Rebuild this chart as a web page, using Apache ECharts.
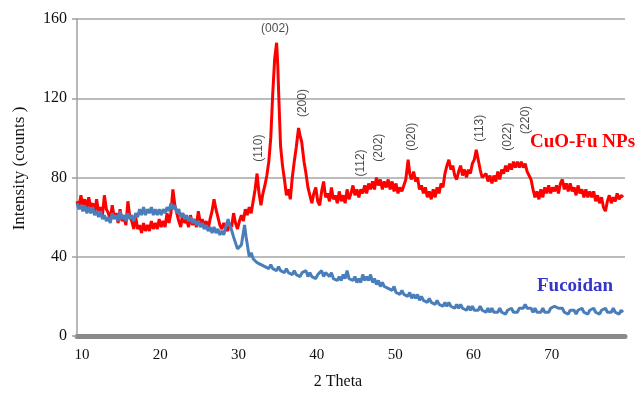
<!DOCTYPE html>
<html>
<head>
<meta charset="utf-8">
<script src="https://cdn.jsdelivr.net/npm/echarts@6/dist/echarts.min.js"></script>
<style>
  html, body { margin: 0; padding: 0; background: #fff; }
  #chart { width: 641px; height: 395px; }
</style>
</head>
<body>
<div id="chart"></div>
<script>
// CuO-Fu NPs pattern, [2theta, counts]
const cuoFu = [
  [10, 68], [10.25, 65], [10.5, 71], [10.75, 66], [11, 69], [11.25, 64], [11.5, 70], [11.75, 65],
  [12, 67], [12.25, 62], [12.5, 69], [12.75, 63], [13, 65], [13.25, 61], [13.5, 71], [13.75, 64],
  [14, 62], [14.25, 59], [14.5, 66], [14.75, 60], [15, 62], [15.25, 57], [15.5, 64], [15.75, 58],
  [16, 60], [16.25, 56], [16.5, 68], [16.75, 60], [17, 58], [17.25, 54], [17.5, 60], [17.75, 54],
  [18, 56], [18.25, 52], [18.5, 57], [18.75, 53], [19, 56], [19.25, 53], [19.5, 58], [19.75, 54],
  [20, 57], [20.25, 54], [20.5, 59], [20.75, 55], [21, 58], [21.25, 55], [21.5, 62], [21.75, 57],
  [22, 62], [22.25, 74], [22.5, 66], [22.75, 62], [23, 58], [23.25, 55], [23.5, 62], [23.75, 57],
  [24, 59], [24.25, 55], [24.5, 61], [24.75, 56], [25, 59], [25.25, 55], [25.5, 63], [25.75, 57],
  [26, 59], [26.25, 55], [26.5, 58], [26.75, 54], [27, 59], [27.25, 63], [27.5, 69], [27.75, 64],
  [28, 60], [28.25, 56], [28.5, 54], [28.75, 57], [29, 58], [29.25, 53], [29.5, 57], [29.75, 55],
  [30, 62], [30.25, 57], [30.5, 54], [30.75, 58], [31, 61], [31.25, 58], [31.5, 64], [31.75, 61],
  [32, 65], [32.25, 62], [32.5, 68], [32.75, 74], [33, 82], [33.25, 72], [33.5, 66], [33.75, 72],
  [34, 76], [34.25, 81], [34.5, 88], [34.75, 100], [35, 122], [35.25, 140], [35.5, 148], [35.65, 136],
  [35.8, 118], [36, 96], [36.25, 86], [36.5, 79], [36.75, 71], [37, 74], [37.25, 69], [37.5, 80],
  [37.75, 88], [38, 95], [38.3, 105], [38.5, 101], [38.7, 98], [39, 88], [39.25, 82], [39.5, 75],
  [39.75, 71], [40, 67], [40.25, 72], [40.5, 75], [40.75, 68], [41, 66], [41.25, 73], [41.5, 78],
  [41.75, 70], [42, 72], [42.25, 68], [42.5, 75], [42.75, 69], [43, 71], [43.25, 67], [43.5, 73],
  [43.75, 68], [44, 71], [44.25, 67], [44.5, 74], [44.75, 69], [45, 72], [45.25, 76], [45.5, 71],
  [45.75, 74], [46, 70], [46.25, 74], [46.5, 72], [46.75, 76], [47, 72], [47.25, 77], [47.5, 74],
  [47.75, 78], [48, 74], [48.25, 80], [48.5, 76], [48.75, 79], [49, 74], [49.25, 78], [49.5, 75],
  [49.75, 79], [50, 74], [50.25, 78], [50.5, 73], [50.75, 77], [51, 72], [51.25, 75], [51.5, 73],
  [51.75, 76], [52, 79], [52.3, 89], [52.5, 82], [52.7, 79], [53, 83], [53.25, 78], [53.5, 80],
  [53.75, 74], [54, 76], [54.25, 72], [54.5, 75], [54.75, 70], [55, 73], [55.25, 69], [55.5, 74],
  [55.75, 70], [56, 75], [56.25, 72], [56.5, 77], [56.75, 75], [57, 82], [57.25, 86], [57.5, 89],
  [57.75, 84], [58, 86], [58.25, 81], [58.5, 79], [58.75, 83], [59, 86], [59.25, 81], [59.5, 84],
  [59.75, 80], [60, 84], [60.25, 82], [60.5, 87], [60.75, 89], [61, 94], [61.25, 89], [61.5, 84],
  [61.75, 80], [62, 79], [62.25, 82], [62.5, 78], [62.75, 81], [63, 77], [63.25, 81], [63.5, 78],
  [63.75, 83], [64, 79], [64.25, 84], [64.5, 82], [64.75, 86], [65, 83], [65.25, 87], [65.5, 84],
  [65.75, 88], [66, 85], [66.25, 88], [66.5, 85], [66.75, 88], [67, 85], [67.25, 87], [67.5, 83],
  [67.75, 84], [68, 79], [68.25, 74], [68.5, 70], [68.75, 73], [69, 69], [69.25, 74], [69.5, 70],
  [69.75, 75], [70, 72], [70.25, 76], [70.5, 72], [70.75, 75], [71, 73], [71.25, 76], [71.5, 72],
  [71.75, 77], [72, 79], [72.25, 74], [72.5, 77], [72.75, 73], [73, 77], [73.25, 73], [73.5, 75],
  [73.75, 71], [74, 76], [74.25, 72], [74.5, 74], [74.75, 70], [75, 74], [75.25, 70], [75.5, 73],
  [75.75, 70], [76, 73], [76.25, 68], [76.5, 71], [76.75, 67], [77, 70], [77.25, 65], [77.5, 63],
  [77.75, 68], [78, 71], [78.25, 67], [78.5, 70], [78.75, 68], [79, 72], [79.25, 69], [79.5, 71],
  [79.75, 70]
];

// Fucoidan pattern, [2theta, counts]
const fucoidan = [
  [10, 67], [10.25, 64], [10.5, 66], [10.75, 63], [11, 66], [11.25, 62], [11.5, 65], [11.75, 62],
  [12, 65], [12.25, 61], [12.5, 63], [12.75, 60], [13, 63], [13.25, 59], [13.5, 61], [13.75, 58],
  [14, 60], [14.25, 57], [14.5, 62], [14.75, 59], [15, 61], [15.25, 58], [15.5, 63], [15.75, 59],
  [16, 61], [16.25, 58], [16.5, 62], [16.75, 59], [17, 61], [17.25, 58], [17.5, 62], [17.75, 60],
  [18, 64], [18.25, 61], [18.5, 65], [18.75, 61], [19, 64], [19.25, 62], [19.5, 65], [19.75, 61],
  [20, 64], [20.25, 61], [20.5, 64], [20.75, 61], [21, 64], [21.25, 62], [21.5, 65], [21.75, 63],
  [22, 67], [22.25, 64], [22.5, 66], [22.75, 62], [23, 64], [23.25, 60], [23.5, 62], [23.75, 59],
  [24, 61], [24.25, 58], [24.5, 60], [24.75, 57], [25, 59], [25.25, 56], [25.5, 58], [25.75, 55],
  [26, 57], [26.25, 54], [26.5, 56], [26.75, 53], [27, 55], [27.25, 52], [27.5, 55], [27.75, 52],
  [28, 54], [28.25, 51], [28.5, 53], [28.75, 51], [29, 55], [29.3, 59], [29.5, 56], [29.7, 54],
  [30, 50], [30.25, 47], [30.5, 44], [30.75, 43], [31, 46], [31.2, 51], [31.4, 56], [31.6, 50],
  [31.8, 45], [32, 40], [32.25, 42], [32.5, 39], [32.75, 40], [33, 37], [33.25, 38], [33.5, 36],
  [33.75, 37], [34, 35], [34.25, 36], [34.5, 34], [34.75, 36], [35, 34], [35.25, 35], [35.5, 33],
  [35.75, 35], [36, 33], [36.25, 34], [36.5, 32], [36.75, 34], [37, 32], [37.25, 33], [37.5, 31],
  [37.75, 33], [38, 31], [38.25, 32], [38.5, 30], [38.75, 32], [39, 31], [39.25, 33], [39.5, 30],
  [39.75, 32], [40, 30], [40.25, 31], [40.5, 29], [40.75, 31], [41, 30], [41.25, 33], [41.5, 30],
  [41.75, 32], [42, 31], [42.25, 30], [42.5, 32], [42.75, 29], [43, 30], [43.25, 28], [43.5, 30],
  [43.75, 28], [44, 31], [44.25, 29], [44.5, 33], [44.75, 29], [45, 30], [45.25, 28], [45.5, 30],
  [45.75, 27], [46, 29], [46.25, 27], [46.5, 31], [46.75, 28], [47, 30], [47.25, 28], [47.5, 31],
  [47.75, 27], [48, 29], [48.25, 26], [48.5, 28], [48.75, 25], [49, 27], [49.25, 25], [49.5, 26],
  [49.75, 24], [50, 25], [50.25, 23], [50.5, 25], [50.75, 22], [51, 23], [51.25, 21], [51.5, 23],
  [51.75, 21], [52, 22], [52.25, 20], [52.5, 22], [52.75, 19], [53, 21], [53.25, 19], [53.5, 21],
  [53.75, 18], [54, 20], [54.25, 18], [54.5, 19], [54.75, 17], [55, 19], [55.25, 17], [55.5, 18],
  [55.75, 16], [56, 18], [56.25, 16], [56.5, 17], [56.75, 15], [57, 17], [57.25, 15], [57.5, 17],
  [57.75, 15], [58, 16], [58.25, 14], [58.5, 16], [58.75, 14], [59, 16], [59.25, 14], [59.5, 15],
  [59.75, 13], [60, 15], [60.25, 13], [60.5, 15], [60.75, 13], [61, 14], [61.25, 13], [61.5, 15],
  [61.75, 13], [62, 14], [62.25, 12], [62.5, 14], [62.75, 12], [63, 14], [63.25, 12], [63.5, 13],
  [63.75, 12], [64, 14], [64.25, 12], [64.5, 13], [64.75, 11], [65, 13], [65.25, 12], [65.5, 14],
  [65.75, 12], [66, 13], [66.25, 12], [66.5, 14], [66.75, 13], [67, 14], [67.25, 16], [67.5, 14],
  [67.75, 13], [68, 14], [68.25, 12], [68.5, 14], [68.75, 12], [69, 13], [69.25, 12], [69.5, 14],
  [69.75, 12], [70, 13], [70.25, 12], [70.5, 14], [70.75, 13], [71, 15], [71.25, 16], [71.5, 14],
  [71.75, 13], [72, 14], [72.25, 12], [72.5, 13], [72.75, 11], [73, 13], [73.25, 12], [73.5, 13],
  [73.75, 11], [74, 13], [74.25, 12], [74.5, 14], [74.75, 12], [75, 13], [75.25, 11], [75.5, 13],
  [75.75, 12], [76, 14], [76.25, 12], [76.5, 13], [76.75, 11], [77, 13], [77.25, 12], [77.5, 14],
  [77.75, 12], [78, 13], [78.25, 12], [78.5, 14], [78.75, 12], [79, 13], [79.25, 11], [79.5, 13],
  [79.75, 12]
];

// Miller index labels: text, 2theta, counts at text base
const peakNames = ["(110)", "(200)", "(112)", "(202)", "(020)", "(113)", "(022)", "(220)"];
const peakX = [33.2, 38.8, 46.3, 48.5, 52.7, 61.4, 65.0, 67.3];
const peakY = [88, 110.5, 80.5, 88, 93.5, 98, 93.5, 102];
const topPeak = { name: "(002)", x: 35.3, y: 155 };

const serif = "Liberation Serif, Times New Roman, serif";
const sans = "Liberation Sans, Arial, sans-serif";

const chart = echarts.init(document.getElementById("chart"));

chart.setOption({
  animation: false,
  grid: { left: 77, right: 16, top: 19, bottom: 56 },
  xAxis: {
    type: "value",
    min: 10,
    max: 80,
    interval: 10,
    name: "2 Theta",
    nameLocation: "middle",
    nameGap: 38,
    nameTextStyle: { fontFamily: serif, fontSize: 16, color: "#111", padding: [0, 26, 0, 0] },
    axisLine: { onZero: false, lineStyle: { color: "#8a8a8a", width: 5 } },
    axisTick: { show: false },
    splitLine: { show: false },
    axisLabel: {
      fontFamily: serif, fontSize: 15, color: "#111", margin: 12,
      padding: [0, 0, 0, 10], showMaxLabel: false
    }
  },
  yAxis: {
    type: "value",
    min: 0,
    max: 160,
    interval: 40,
    name: "Intensity (counts )",
    nameLocation: "middle",
    nameGap: 49,
    nameTextStyle: { fontFamily: serif, fontSize: 17, color: "#111", padding: [0, 0, 0, 18] },
    axisLine: { show: true, lineStyle: { color: "#a0a0a0", width: 1.5 } },
    axisTick: { show: true, length: 5, lineStyle: { color: "#a0a0a0", width: 1.5 } },
    splitLine: { lineStyle: { color: "#a6a6a6", width: 1.5 } },
    axisLabel: { fontFamily: serif, fontSize: 16, color: "#111", margin: 10 }
  },
  series: [
    {
      name: "CuO-Fu NPs",
      type: "line",
      data: cuoFu,
      showSymbol: false,
      lineStyle: { color: "#ff0000", width: 3 },
      z: 2
    },
    {
      name: "Fucoidan",
      type: "line",
      data: fucoidan,
      showSymbol: false,
      lineStyle: { color: "#4a7ebb", width: 3 },
      z: 3
    },
    {
      type: "scatter",
      symbolSize: 0,
      silent: true,
      data: peakNames.map((n, i) => ({ name: n, value: [peakX[i], peakY[i]] })),
      label: {
        show: true,
        position: "inside",
        rotate: 90,
        align: "left",
        verticalAlign: "middle",
        formatter: (p) => p.name,
        fontFamily: sans,
        fontSize: 12,
        color: "#1a1a1a"
      },
      z: 5
    },
    {
      type: "scatter",
      symbolSize: 0,
      silent: true,
      data: [{ name: topPeak.name, value: [topPeak.x, topPeak.y] }],
      label: {
        show: true,
        position: "inside",
        formatter: (p) => p.name,
        fontFamily: sans,
        fontSize: 12,
        color: "#1a1a1a"
      },
      z: 5
    }
  ],
  graphic: [
    {
      type: "text",
      left: 530,
      top: 133,
      style: { text: "CuO-Fu NPs", font: "bold 19px " + serif, fill: "#ff0000" }
    },
    {
      type: "text",
      left: 537,
      top: 277,
      style: { text: "Fucoidan", font: "bold 19px " + serif, fill: "#3535c8" }
    }
  ]
});
</script>
</body>
</html>
